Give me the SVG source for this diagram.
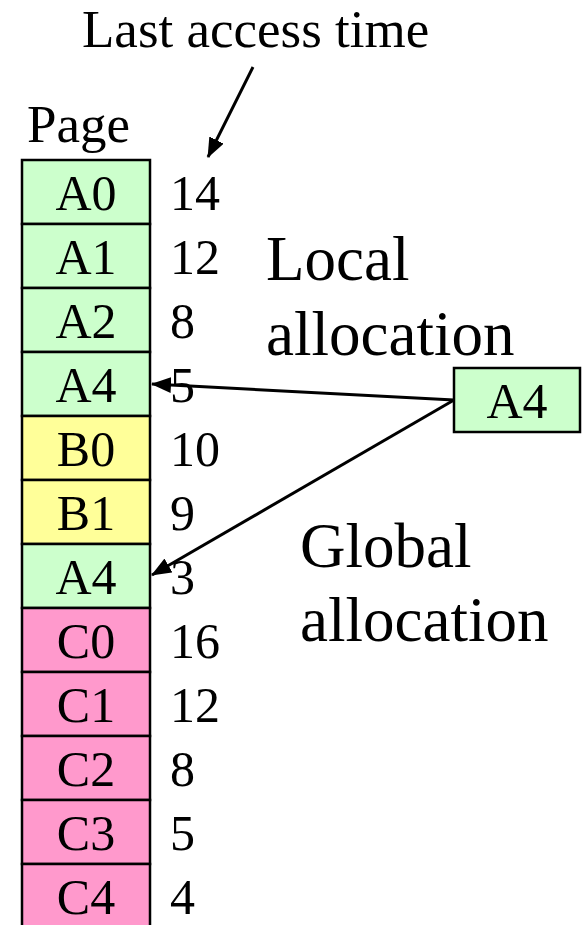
<svg xmlns="http://www.w3.org/2000/svg" width="582" height="925" viewBox="0 0 582 925">
  <style>
    .t { font-family: "Liberation Serif", "Times New Roman", serif; fill: #000; }
    .cell { stroke: #000; stroke-width: 2.5; }
    .g { fill: #CCFFCC; }
    .y { fill: #FFFF99; }
    .p { fill: #FF99CC; }
    .lbl { font-size: 50px; text-anchor: middle; }
    .num { font-size: 50px; }
    .big { font-size: 63px; }
    .hdr { font-size: 53px; }
    .arrow { stroke: #000; stroke-width: 3; fill: none; marker-end: url(#head); }
  </style>
  <defs>
    <marker id="head" viewBox="0 0 20 16" refX="19" refY="8" markerWidth="20" markerHeight="16" markerUnits="userSpaceOnUse" orient="auto">
      <path d="M0,0 L20,8 L0,16 z" fill="#000"/>
    </marker>
  </defs>

  <rect width="582" height="925" fill="#fff"/>

  <text class="t hdr" x="82" y="47">Last access time</text>
  <text class="t hdr" x="27" y="142">Page</text>

  <!-- page frames, top to bottom -->
  <g id="page-A0"><rect class="cell g" x="22" y="160" width="128" height="64"/><text class="t lbl" x="86" y="210">A0</text><text class="t num" x="170" y="210">14</text></g>
  <g id="page-A1"><rect class="cell g" x="22" y="224" width="128" height="64"/><text class="t lbl" x="86" y="274">A1</text><text class="t num" x="170" y="274">12</text></g>
  <g id="page-A2"><rect class="cell g" x="22" y="288" width="128" height="64"/><text class="t lbl" x="86" y="338">A2</text><text class="t num" x="170" y="338">8</text></g>
  <g id="page-A4-local"><rect class="cell g" x="22" y="352" width="128" height="64"/><text class="t lbl" x="86" y="402">A4</text><text class="t num" x="170" y="402">5</text></g>
  <g id="page-B0"><rect class="cell y" x="22" y="416" width="128" height="64"/><text class="t lbl" x="86" y="466">B0</text><text class="t num" x="170" y="466">10</text></g>
  <g id="page-B1"><rect class="cell y" x="22" y="480" width="128" height="64"/><text class="t lbl" x="86" y="530">B1</text><text class="t num" x="170" y="530">9</text></g>
  <g id="page-A4-global"><rect class="cell g" x="22" y="544" width="128" height="64"/><text class="t lbl" x="86" y="594">A4</text><text class="t num" x="170" y="594">3</text></g>
  <g id="page-C0"><rect class="cell p" x="22" y="608" width="128" height="64"/><text class="t lbl" x="86" y="658">C0</text><text class="t num" x="170" y="658">16</text></g>
  <g id="page-C1"><rect class="cell p" x="22" y="672" width="128" height="64"/><text class="t lbl" x="86" y="722">C1</text><text class="t num" x="170" y="722">12</text></g>
  <g id="page-C2"><rect class="cell p" x="22" y="736" width="128" height="64"/><text class="t lbl" x="86" y="786">C2</text><text class="t num" x="170" y="786">8</text></g>
  <g id="page-C3"><rect class="cell p" x="22" y="800" width="128" height="64"/><text class="t lbl" x="86" y="850">C3</text><text class="t num" x="170" y="850">5</text></g>
  <g id="page-C4"><rect class="cell p" x="22" y="864" width="128" height="64"/><text class="t lbl" x="86" y="914">C4</text><text class="t num" x="170" y="914">4</text></g>

  <!-- incoming page -->
  <g id="new-A4"><rect class="cell g" x="454" y="368" width="126" height="64"/><text class="t lbl" x="517" y="418">A4</text></g>

  <text class="t big" x="266" y="280">Local</text>
  <text class="t big" x="266" y="355">allocation</text>
  <text class="t big" x="300" y="567">Global</text>
  <text class="t big" x="300" y="641">allocation</text>

  <g id="connectors">
    <line class="arrow" x1="253" y1="67" x2="208" y2="157"/>
    <line class="arrow" x1="454" y1="400" x2="152" y2="384"/>
    <line class="arrow" x1="454" y1="400" x2="152" y2="575"/>
  </g>
</svg>
